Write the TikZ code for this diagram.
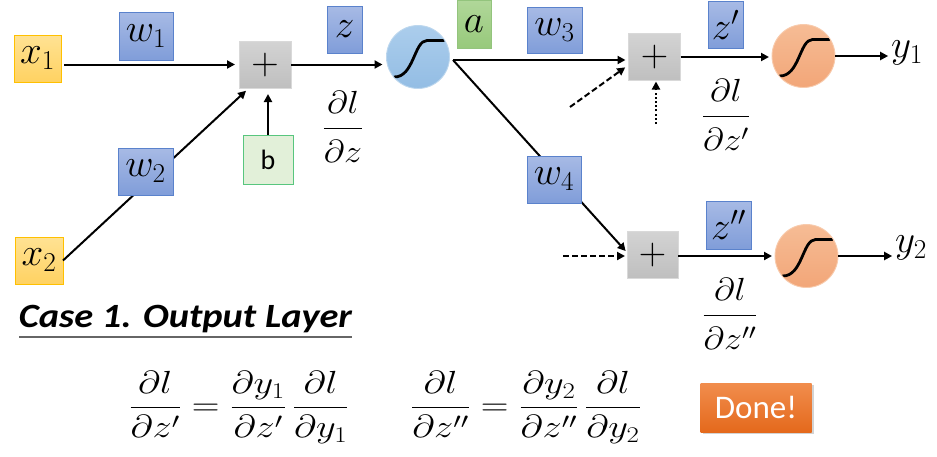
\RequirePackage{fix-cm}
\documentclass[tikz,border=0pt]{standalone}
\usepackage[no-math]{fontspec}
\usepackage{graphicx}
\newfontfamily\calibri{Carlito}
\usetikzlibrary{arrows.meta,shadows}
\definecolor{yelT}{HTML}{FFE293}
\definecolor{yelB}{HTML}{FFD262}
\definecolor{yelD}{HTML}{FFC000}
\definecolor{bluT}{HTML}{A7BAE5}
\definecolor{bluB}{HTML}{809DD9}
\definecolor{bluD}{HTML}{5A82CC}
\definecolor{grnT}{HTML}{B0D799}
\definecolor{grnB}{HTML}{97C97B}
\definecolor{grnD}{HTML}{93C47D}
\definecolor{bF}{HTML}{E2F0D9}
\definecolor{bD}{HTML}{58C67E}
\definecolor{gryT}{HTML}{D3D3D3}
\definecolor{gryB}{HTML}{BFBFBF}
\definecolor{gryD}{HTML}{D9D9D9}
\definecolor{sbT}{HTML}{ABCDEC}
\definecolor{sbB}{HTML}{93BDE4}
\definecolor{sbD}{HTML}{BDD7EE}
\definecolor{soT}{HTML}{F6BC95}
\definecolor{soB}{HTML}{F2A678}
\definecolor{soD}{HTML}{F8CBAD}
\definecolor{dnT}{HTML}{F18D4D}
\definecolor{dnB}{HTML}{E4691C}
\newcommand\ufrac[2]{\frac{#1\rule[-0.40em]{0pt}{0pt}}{\rule{0pt}{1.02em}#2}}
\newcommand\efrac[2]{\frac{#1\rule[-0.36em]{0pt}{0pt}}{\rule{0pt}{0.80em}#2}}
\newcommand\wx[1]{\scalebox{1.12}[1]{#1}}
\begin{document}
\begin{tikzpicture}[x=1pt,y=-1pt,
  every node/.style={inner sep=0pt, outer sep=0pt},
  arr/.style={line width=2pt, -{Triangle[length=8pt,width=8pt]}},
  mathlbl/.style={font=\fontsize{39}{41}\selectfont},
  fraclbl/.style={font=\fontsize{32}{34}\selectfont},
  yelbox/.style={draw=yelD, line width=0.9pt, top color=yelT, bottom color=yelB, mathlbl},
  bluebox/.style={draw=bluD, line width=0.9pt, top color=bluT, bottom color=bluB, mathlbl},
  grnbox/.style={draw=grnD, line width=0.9pt, top color=grnT, bottom color=grnB, mathlbl},
  plusbox/.style={draw=gryD, line width=0.9pt, top color=gryT, bottom color=gryB,
    font=\fontsize{38}{40}\selectfont, minimum width=52pt, minimum height=47pt},
  sigpath/.style={path picture={\draw[draw=black, line width=2.8pt, line cap=round]
    ([shift={(-24pt,-20pt)}]path picture bounding box.center)
    .. controls ++(20pt,-0.5pt) and ++(-13pt,0pt) .. ++(33pt,36.5pt) -- ++(17pt,0pt);}},
  sigb/.style={circle, draw=sbD, line width=0.9pt, top color=sbT, bottom color=sbB,
    minimum size=63pt, sigpath},
  sigo/.style={circle, draw=soD, line width=0.9pt, top color=soT, bottom color=soB,
    minimum size=63pt, sigpath}
]
\useasboundingbox (0,0) rectangle (937,456);

% endpoint nodes
\node[yelbox, minimum width=47pt, minimum height=47pt] (x1) at (37.5,58.5) {$x_1$};
\node[yelbox, minimum width=48pt, minimum height=47pt] (x2) at (39,260.5) {$x_2$};
\node[plusbox] (plus1) at (265,64.5) {$+$};
\node[draw=bD, line width=0.9pt, fill=bF, minimum width=50pt, minimum height=49pt,
  font=\calibri\fontsize{28}{30}\selectfont] (b) at (268,159.5) {b};
\node[sigb] (sig1) at (418,57) {};
\coordinate (fork) at (453,60);
\node[plusbox] (plus2) at (654.5,57) {$+$};
\node[plusbox, minimum width=51pt] (plus3) at (652.5,254.5) {$+$};
\node[sigo] (sig2) at (803.5,56) {};
\node[sigo] (sig3) at (806.5,256) {};
\node[mathlbl] (y1) at (907,53) {$y_1$};
\node[mathlbl] (y2) at (911,248) {$y_2$};
\coordinate (d1) at (570,107);
\coordinate (d2) at (656,124);
\coordinate (d3) at (563,256);

% connectors
\draw[arr, shorten <=3pt, shorten >=4pt] (x1.east |- plus1.west) -- (plus1.west);
\draw[arr, shorten >=4pt] (x2.east) -- ([xshift=10pt]plus1.south west);
\draw[arr, shorten >=6pt] (b.north) -- (b.north |- plus1.south);
\draw[arr, shorten >=4pt] (plus1.east) -- (plus1.east -| sig1.west);
\draw[arr, shorten >=3pt] (fork) -- (fork -| plus2.west);
\draw[arr, shorten >=2pt] (fork) -- ([yshift=2pt]plus3.west);
\draw[arr, dash pattern=on 6pt off 3pt, shorten >=4pt] (d1) -- ([yshift=-8pt]plus2.west);
\draw[arr, dash pattern=on 2pt off 2.2pt, shorten >=1pt] (d2) -- (d2 |- plus2.south);
\draw[arr, dash pattern=on 6pt off 3pt, shorten >=2pt] (d3) -- (d3 -| plus3.west);
\draw[arr, shorten >=3pt] (plus2.east) -- (plus2.east -| sig2.west);
\draw[arr, shorten >=3pt] (sig2.east) -- (sig2.east -| y1.west);
\draw[arr, shorten >=3pt] (plus3.east |- sig3.west) -- (sig3.west);
\draw[arr, shorten >=3pt] (sig3.east) -- (sig3.east -| y2.west);

% labels on connectors
\node[bluebox, minimum width=54pt, minimum height=48pt] (w1) at (146,36) {$w_1$};
\node[bluebox, minimum width=55pt, minimum height=47pt] (w2) at (145.5,171.5) {$w_2$};
\node[bluebox, minimum width=35pt, minimum height=47pt] (z) at (344.5,29.5) {$z$};
\node[grnbox, minimum width=34pt, minimum height=48pt] (a) at (474,24.5) {$a$};
\node[bluebox, minimum width=55pt, minimum height=46pt] (w3) at (554.5,30) {$w_3$};
\node[bluebox, minimum width=54pt, minimum height=47pt] (w4) at (554,179.5) {$w_4$};
\node[bluebox, minimum width=35pt, minimum height=47pt] (z1) at (725.5,25) {$z'$};
\node[bluebox, minimum width=45pt, minimum height=48pt] (z2) at (728.5,225) {$z''$};

\node[fraclbl] (fz) at (343,127) {\wx{$\displaystyle\ufrac{\partial l}{\partial z}$}};
\node[fraclbl] (fz1) at (726,115) {\wx{$\displaystyle\ufrac{\partial l}{\partial z'}$}};
\node[fraclbl] (fz2) at (730,314) {\wx{$\displaystyle\ufrac{\partial l}{\partial z''}$}};

% bottom part
\node[anchor=base west, font=\calibri\bfseries\itshape\fontsize{34}{36}\selectfont] (title) at (19,327) {\scalebox{1.13}[1]{Case 1. Output Layer}};
\draw[black!60, line width=1.2pt] ([yshift=-10pt]title.base west) -- ([yshift=-10pt]title.base east);

\node[fraclbl] (eq1) at (239,407.5) {\scalebox{1.2}[1]{$\displaystyle\efrac{\partial l}{\partial z'}=\efrac{\partial y_1}{\partial z'}\,\efrac{\partial l}{\partial y_1}$}};
\node[fraclbl] (eq2) at (526,407.5) {\scalebox{1.2}[1]{$\displaystyle\efrac{\partial l}{\partial z''}=\efrac{\partial y_2}{\partial z''}\,\efrac{\partial l}{\partial y_2}$}};

\node[top color=dnT, bottom color=dnB, minimum width=111pt, minimum height=49pt,
  drop shadow={opacity=0.35, shadow xshift=2pt, shadow yshift=-2pt},
  text=white, font=\calibri\fontsize{33}{35}\selectfont] (done) at (756,407.5) {Done!};
\end{tikzpicture}
\end{document}
